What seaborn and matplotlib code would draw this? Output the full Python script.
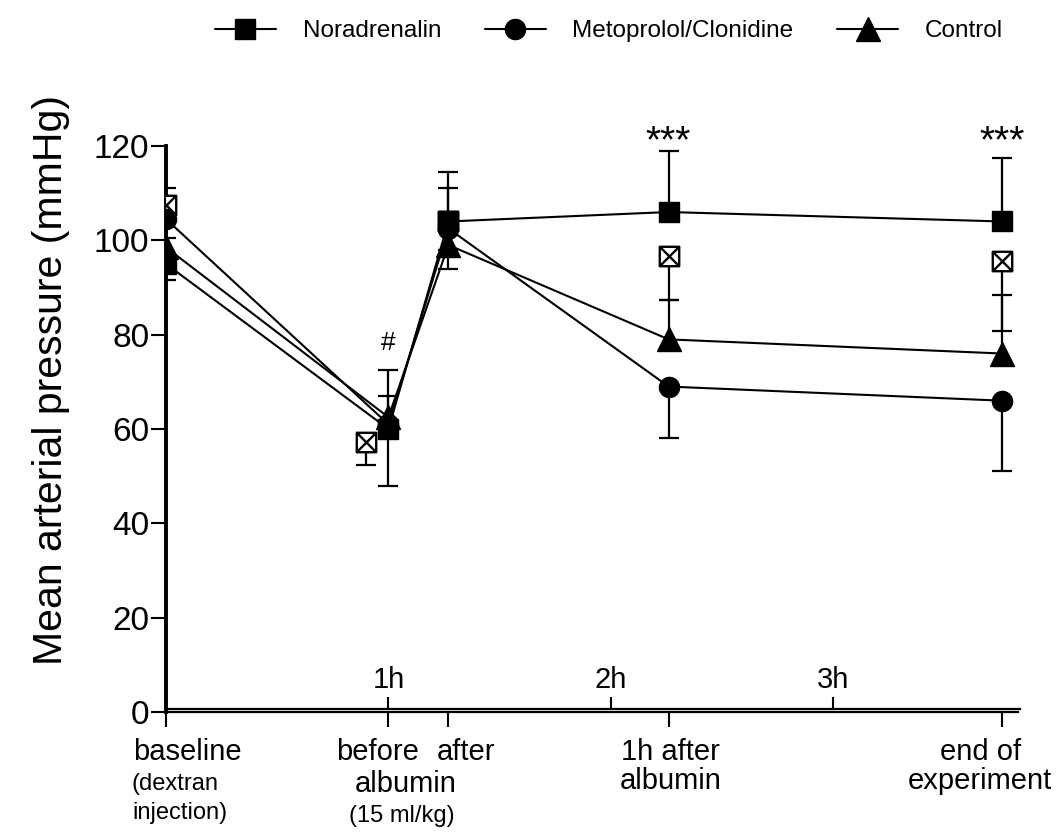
import numpy as np
import pandas as pd
import matplotlib
matplotlib.use("Agg")
import matplotlib.pyplot as plt
from matplotlib.path import Path
from matplotlib.lines import Line2D
from matplotlib.transforms import ScaledTranslation
import seaborn as sns

sns.set_theme(style="ticks")
plt.rcParams['font.family'] = ['Liberation Sans', 'DejaVu Sans']
for key in ['text.color', 'axes.labelcolor', 'xtick.color', 'ytick.color', 'axes.edgecolor']:
    plt.rcParams[key] = 'black'

# ----------------------------------------------------------------
# DATA
# ----------------------------------------------------------------
hours = [0.0, 1.0, 1.27, 2.26, 3.76]          # time points, hours after dextran
point_labels = ['baseline', 'before', 'after', '1h after\nalbumin', 'end of\nexperiment']
hour_ticks = [1, 2, 3]
hour_labels = ['1h', '2h', '3h']

groups = ['Noradrenalin', 'Metoprolol/Clonidine', 'Control']
nor_mean = [95, 60, 104, 106, 104]
nor_err = [5.5, 12.5, 10.5, 13, 13.5]      # drawn upwards
meto_mean = [104.5, 61, 102.5, 69, 66]
meto_err = [13, 13, 8.5, 11, 15]           # drawn downwards
ctrl_mean = [98.5, 62.5, 99, 79, 76]
ctrl_err = [12.5, 4.5, 12, 8.3, 12.4]      # drawn upwards

# unlabelled group: open crossed squares, not joined by a line
extra_hours = [0.0, 0.9, 1.27, 2.26, 3.76]
extra_mean = [107.5, 57.3, 104, 96.7, 95.7]
extra_err = [3, 5, 6, 9.4, 14.9]           # drawn downwards

sig_hours = [1.0, 2.26, 3.76]
sig_text = ['#', '***', '***']
sig_y = [76.7, 118.6, 118.6]

# ----------------------------------------------------------------
# FIGURE
# ----------------------------------------------------------------
fig = plt.figure(figsize=(10.59, 8.39), dpi=100)
ax = fig.add_axes([166 / 1059, 127 / 839, 854 / 1059, 566 / 839])

df = pd.DataFrame({
    'hours': hours * 3,
    'map': nor_mean + meto_mean + ctrl_mean,
    'group': [g for g in groups for _ in hours],
})
markers = {'Noradrenalin': 's', 'Metoprolol/Clonidine': 'o', 'Control': '^'}


def one_sided(x, mean, err, sign):
    mean = np.asarray(mean)
    end = mean + sign * np.asarray(err)
    ax.vlines(x, mean, end, color='black', lw=1.6, zorder=2)
    ax.plot(x, end, ls='none', marker='_', ms=14.5, mew=1.6, color='black', zorder=2)


one_sided(extra_hours, extra_mean, extra_err, -1)
one_sided(hours, meto_mean, meto_err, -1)
one_sided(hours, ctrl_mean, ctrl_err, +1)
one_sided(hours, nor_mean, nor_err, +1)

# crossed open square marker
crossed = Path([(-1, -1), (1, -1), (1, 1), (-1, 1), (-1, -1),
                (-1, -1), (1, 1), (-1, 1), (1, -1)],
               [Path.MOVETO, Path.LINETO, Path.LINETO, Path.LINETO, Path.CLOSEPOLY,
                Path.MOVETO, Path.LINETO, Path.MOVETO, Path.LINETO])
ax.plot(extra_hours, extra_mean, ls='none', marker=crossed, ms=14, mew=1.7,
        mfc='white', mec='black', zorder=3)

sns.lineplot(data=df, x='hours', y='map', style='group', style_order=groups[::-1],
             markers=markers, dashes=False, color='black', linewidth=1.5,
             markersize=14.5, markeredgecolor='black', markeredgewidth=1,
             errorbar=None, legend=False, ax=ax, zorder=4)
for ln in ax.lines:
    if ln.get_marker() == '^':
        ln.set_markersize(17)

for xh, txt, yv in zip(sig_hours, sig_text, sig_y):
    ax.text(xh, yv, txt, ha='center', va='baseline',
            fontsize=19 if txt == '#' else 28)

# ---- axes -------------------------------------------------------
ax.set_xlim(0, 3.84)
ax.set_ylim(0, 120)
ax.set_yticks(range(0, 121, 20))
ax.tick_params(axis='y', labelsize=24, length=11, width=1.5, pad=1)
ax.spines['left'].set_linewidth(2.8)
ax.spines['bottom'].set_linewidth(1.6)
ax.spines['bottom'].set_bounds(0, 3.83)
for s in ['top', 'right']:
    ax.spines[s].set_visible(False)

ax.set_xticks(hours)
ax.set_xticklabels(point_labels, fontsize=21, linespacing=1.05)
ax.tick_params(axis='x', length=11, width=1.5, pad=8)
label_shift = [21, -11, 18, 2, -22]   # px shift of each label from its tick
for lab, dx in zip(ax.get_xticklabels(), label_shift):
    lab.set_transform(lab.get_transform() + ScaledTranslation(dx / 100, 0, fig.dpi_scale_trans))

ax.set_xlabel('')
ax.set_ylabel('Mean arterial pressure (mmHg)', fontsize=29.5)
ax.yaxis.set_label_coords(-0.112, 0.587)

# sub-labels under the time points
ax.annotate('(dextran\ninjection)', xy=(hours[0], 0), xytext=(-24.5, -44),
            textcoords='offset points', ha='left', va='top', fontsize=17,
            linespacing=1.4, annotation_clip=False)
mid = (hours[1] + hours[2]) / 2
ax.annotate('albumin', xy=(mid, 0), xytext=(-9, -42), textcoords='offset points',
            ha='center', va='top', fontsize=21, annotation_clip=False)
ax.annotate('(15 ml/kg)', xy=(mid, 0), xytext=(-12, -67), textcoords='offset points',
            ha='center', va='top', fontsize=17, annotation_clip=False)

# hours axis (ticks pointing up, labels above the axis line)
ax2 = ax.twiny()
ax2.set_xlim(ax.get_xlim())
ax2.xaxis.set_ticks_position('bottom')
for s in ['top', 'left', 'right']:
    ax2.spines[s].set_visible(False)
ax2.spines['bottom'].set_visible(True)
ax2.spines['bottom'].set_position(('outward', -2.3))
ax2.spines['bottom'].set_linewidth(1.6)
ax2.spines['bottom'].set_bounds(0, 3.84)
ax2.set_xticks(hour_ticks)
ax2.set_xticklabels(hour_labels, fontsize=21)
ax2.tick_params(axis='x', direction='in', length=9, width=1.5, pad=-31)

# legend
handles = [Line2D([], [], color='black', lw=1.5, marker=markers[g],
                  ms=17 if markers[g] == '^' else 14.5, mec='black') for g in groups]
fig.legend(handles, groups, loc='center', bbox_to_anchor=(0.575, 0.963), ncol=3,
           frameon=False, fontsize=17.5, handlelength=2.5, handletextpad=1.1,
           columnspacing=1.8)

plt.savefig('out.png', dpi=100)
plt.close()
